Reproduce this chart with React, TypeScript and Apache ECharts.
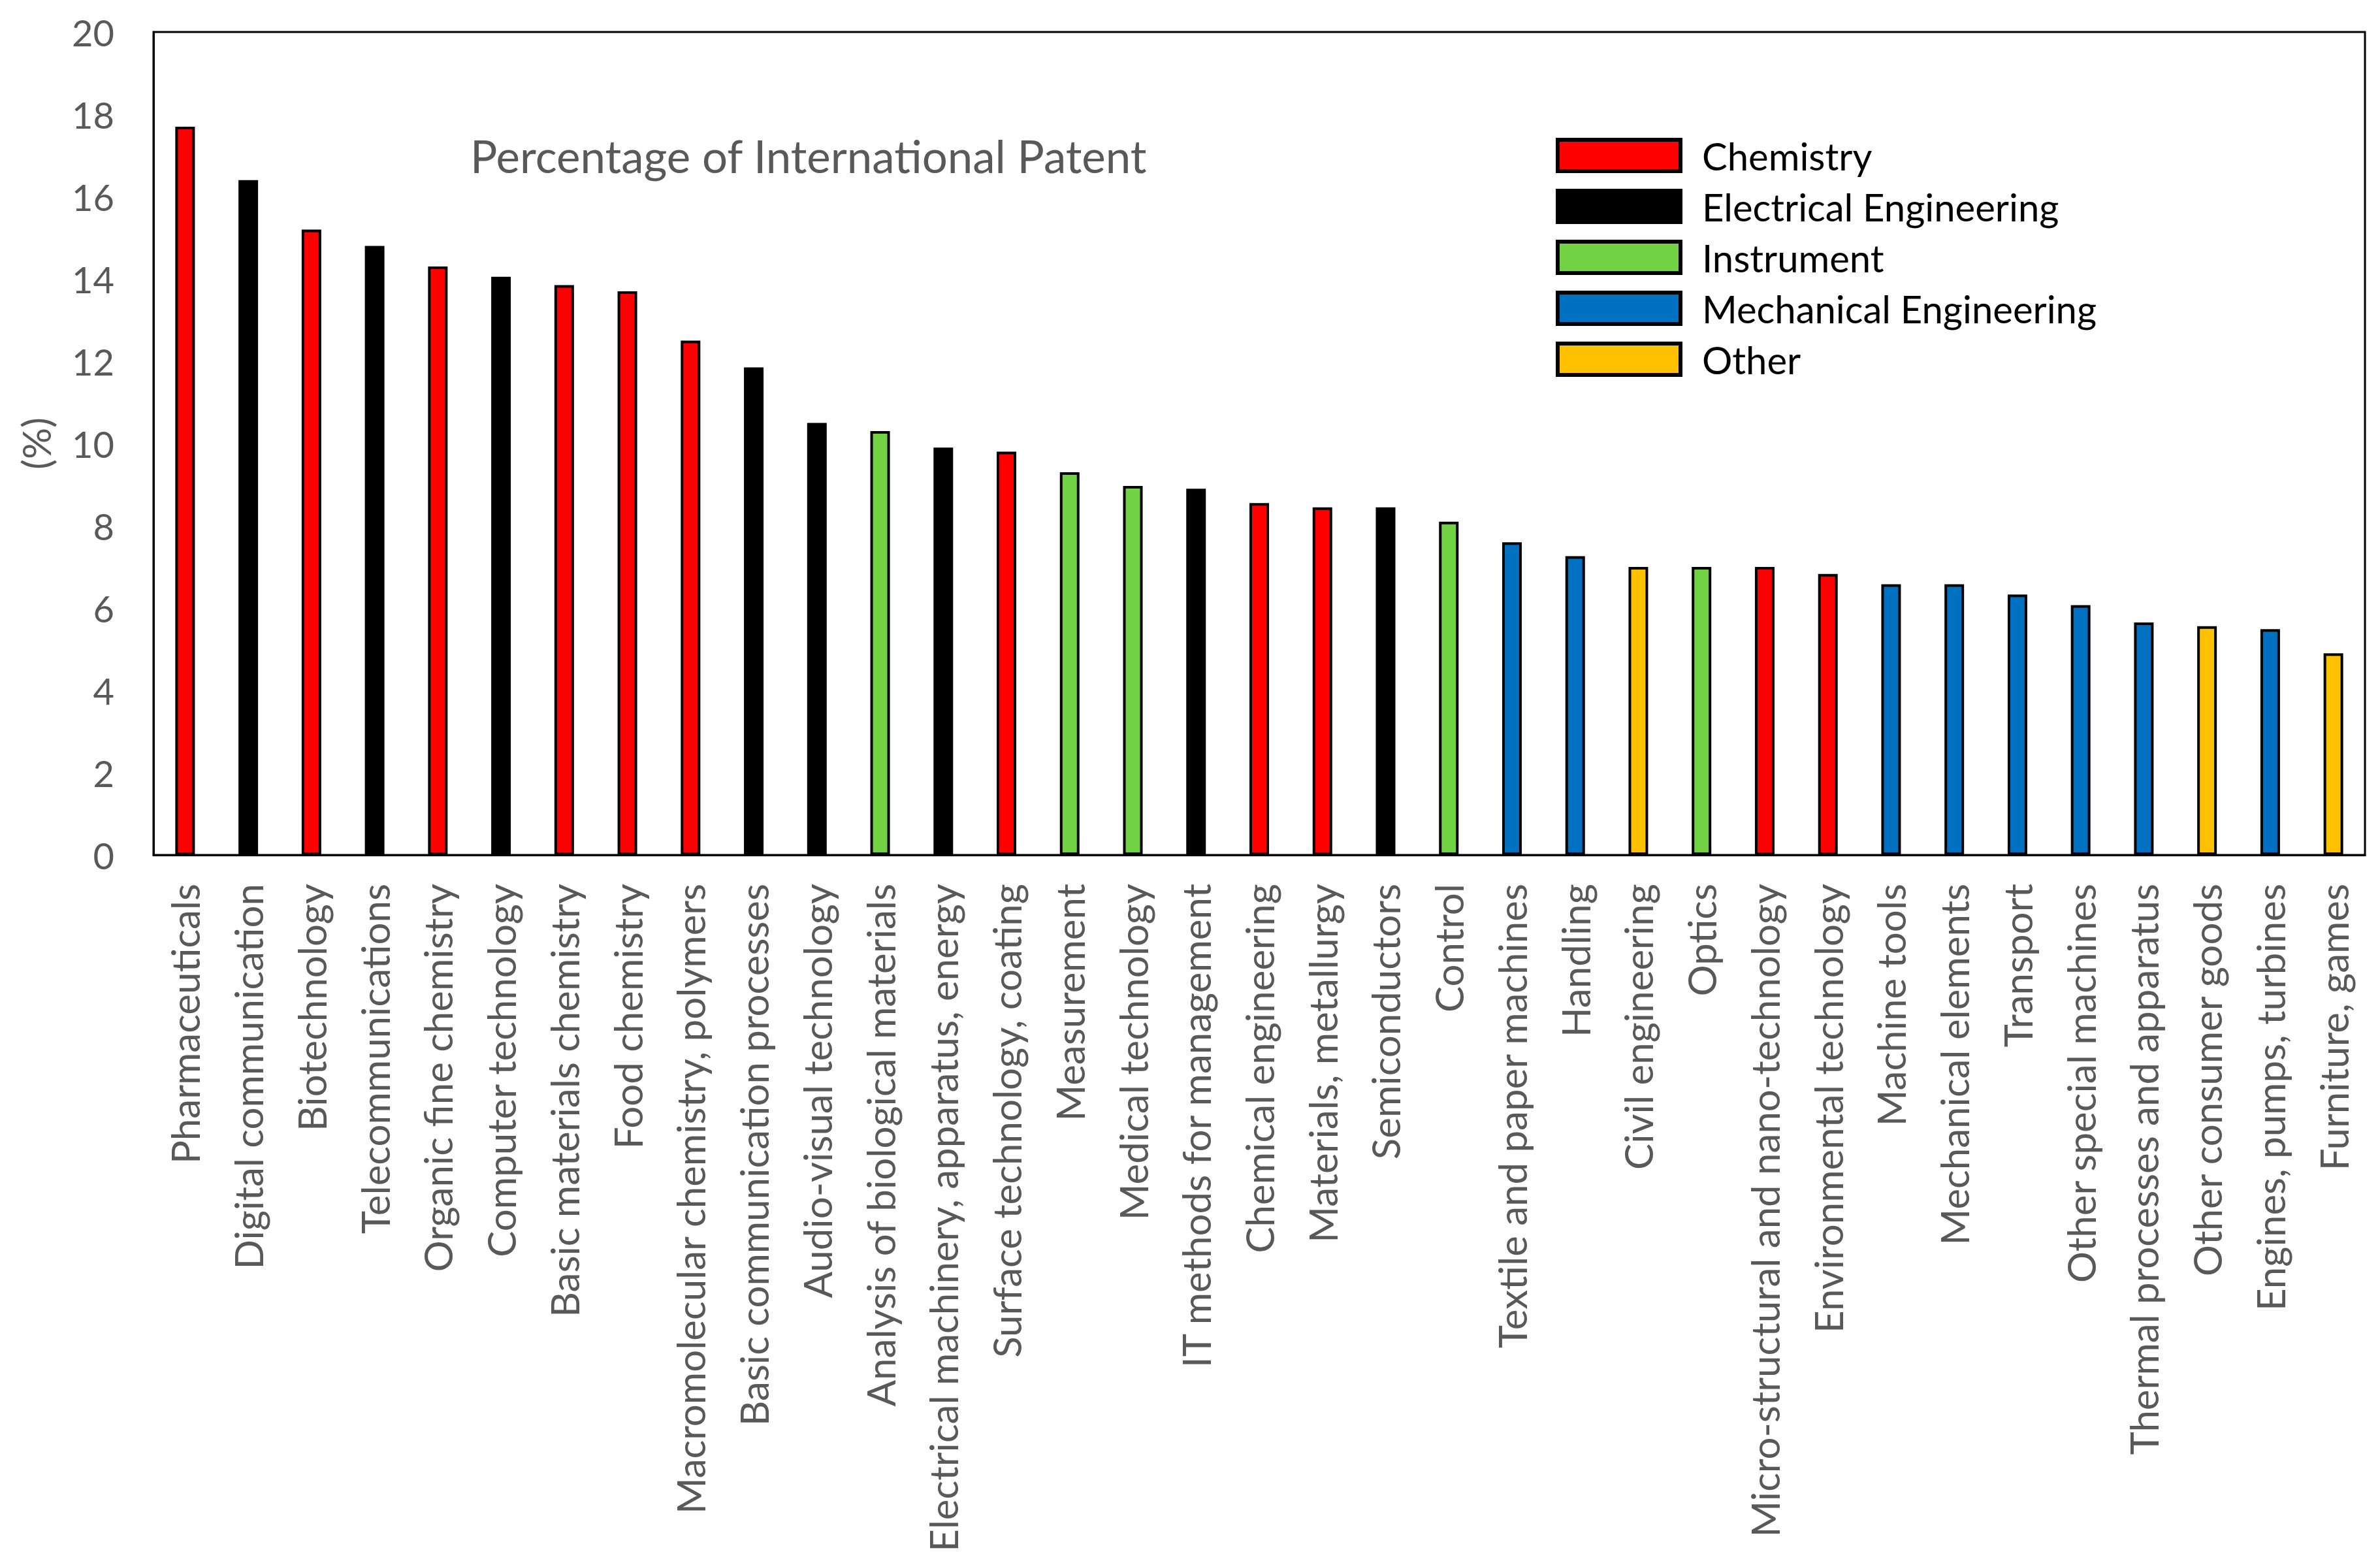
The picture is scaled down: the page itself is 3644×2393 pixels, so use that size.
import React, { useEffect, useRef } from "react";
import * as echarts from "echarts";

const categories = [
  "Pharmaceuticals", "Digital communication", "Biotechnology", "Telecommunications",
  "Organic fine chemistry", "Computer technology", "Basic materials chemistry", "Food chemistry",
  "Macromolecular chemistry, polymers", "Basic communication processes", "Audio-visual technology",
  "Analysis of biological materials", "Electrical machinery, apparatus, energy",
  "Surface technology, coating", "Measurement", "Medical technology", "IT methods for management",
  "Chemical engineering", "Materials, metallurgy", "Semiconductors", "Control",
  "Textile and paper machines", "Handling", "Civil engineering", "Optics",
  "Micro-structural and nano-technology", "Environmental technology", "Machine tools",
  "Mechanical elements", "Transport", "Other special machines", "Thermal processes and apparatus",
  "Other consumer goods", "Engines, pumps, turbines", "Furniture, games",
];

const values = [
  17.7, 16.4, 15.2, 14.8, 14.3, 14.05, 13.85, 13.7, 12.5, 11.85, 10.5, 10.3, 9.9, 9.8, 9.3,
  8.97, 8.9, 8.55, 8.45, 8.45, 8.1, 7.6, 7.26, 7.0, 7.0, 7.0, 6.83, 6.58, 6.58, 6.33, 6.07,
  5.65, 5.56, 5.49, 4.9,
];

// group index per category: 0 Chemistry, 1 Electrical, 2 Instrument, 3 Mechanical, 4 Other
const groups = [
  0, 1, 0, 1, 0, 1, 0, 0, 0, 1, 1, 2, 1, 0, 2, 2, 1, 0, 0, 1, 2, 3, 3, 4, 2, 0, 0, 3, 3, 3, 3,
  3, 4, 3, 4,
];

const groupNames = ["Chemistry", "Electrical Engineering", "Instrument", "Mechanical Engineering", "Other"];
const groupColors = ["#FF0000", "#000000", "#71D243", "#0070C0", "#FFC000"];

const yTicks = { min: 0, max: 20, interval: 2 };

const FONT = "Lato, 'Open Sans', sans-serif";

export default function App() {
  const ref = useRef<HTMLDivElement>(null);
  useEffect(() => {
    document.body.style.margin = "0";
    if (!ref.current) return;
    const chart = echarts.init(ref.current, undefined, { renderer: "svg" });
    const series = groupNames.map((name, g) => ({
      name,
      type: "bar",
      stack: "all",
      barWidth: "31%",
      itemStyle: { color: groupColors[g], borderColor: "#000", borderWidth: 4 },
      data: values.map((v, i) => (groups[i] === g ? v : "-")),
    }));
    chart.setOption({
      animation: false,
      backgroundColor: "#fff",
      grid: {
        left: 235, top: 49, right: 23, bottom: 1084,
        show: true, borderColor: "#000", borderWidth: 3,
      },
      graphic: [
        {
          type: "text", left: 720, top: 204,
          style: { text: "Percentage of International Patent", fontSize: 69, fontFamily: FONT, fill: "#595959" },
        },
      ],
      legend: {
        orient: "vertical", left: 2377, top: 204,
        icon: "rect",
        itemWidth: 188, itemHeight: 48, itemGap: 20,
        itemStyle: { borderColor: "#000", borderWidth: 6 },
        data: groupNames,
        textStyle: { fontSize: 58, fontFamily: FONT, color: "#000", padding: [0, 0, 0, 28] },
      },
      xAxis: {
        type: "category", data: categories,
        axisLine: { lineStyle: { color: "#000", width: 3 } },
        axisTick: { show: false },
        axisLabel: { rotate: 90, interval: 0, margin: 44, fontSize: 60, fontFamily: FONT, color: "#595959" },
      },
      yAxis: {
        type: "value", min: yTicks.min, max: yTicks.max, interval: yTicks.interval,
        name: "(%)", nameLocation: "middle", nameRotate: 90, nameGap: 150,
        nameTextStyle: { fontSize: 60, fontFamily: FONT, color: "#595959" },
        splitLine: { show: false },
        axisLine: { show: true, lineStyle: { color: "#000", width: 3 } },
        axisTick: { show: false },
        axisLabel: { margin: 60, fontSize: 56, fontFamily: FONT, color: "#595959" },
      },
      series,
    });
    return () => chart.dispose();
  }, []);
  return <div ref={ref} style={{ width: 3644, height: 2393 }} />;
}
